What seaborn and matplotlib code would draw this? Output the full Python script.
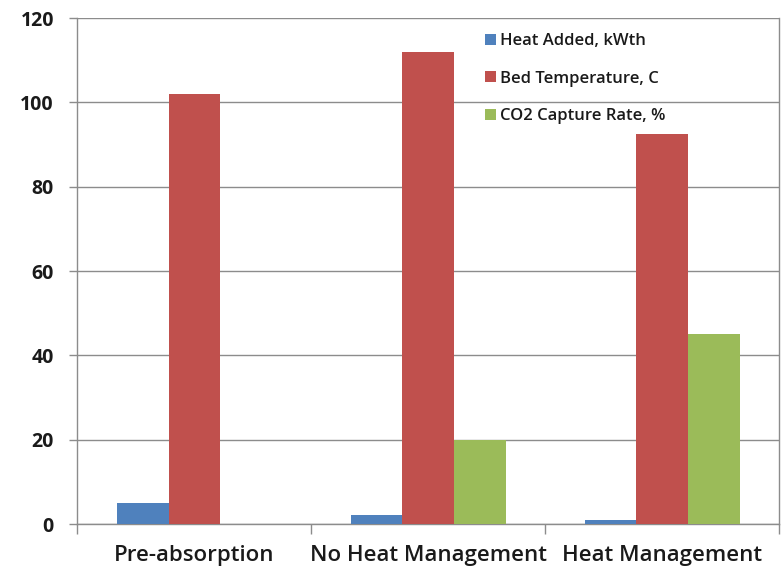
import pandas as pd
import numpy as np
import matplotlib.pyplot as plt
import seaborn as sns

# 数据
categories = ['Pre-absorption', 'No Heat Management', 'Heat Management']
series = ['Heat Added, kWth', 'Bed Temperature, C', 'CO2 Capture Rate, %']
heat_added = [5, 2.2, 1]
bed_temp = [102, 112, 92.5]
co2_rate = [0, 20, 45]
colors = ['#4F81BD', '#C0504D', '#9BBB59']

df = pd.DataFrame({
    'cat': categories * 3,
    'series': np.repeat(series, 3),
    'value': heat_added + bed_temp + co2_rate,
})

sns.set_style('white')
plt.rcParams['font.family'] = ['Open Sans', 'DejaVu Sans']
plt.rcParams['text.color'] = '#1a1a1a'
plt.rcParams['xtick.labelcolor'] = '#1a1a1a'
plt.rcParams['ytick.labelcolor'] = '#1a1a1a'

fig = plt.figure(figsize=(7.82, 5.72), dpi=100)
ax = fig.add_axes([0.0991, 0.0839, 0.897, 0.8846])

sns.barplot(data=df, x='cat', y='value', hue='series', order=categories,
            hue_order=series, palette=colors, width=0.663, saturation=1,
            linewidth=0, errorbar=None, ax=ax, zorder=3)

ax.set_ylim(0, 120)
ax.set_xlim(-0.5, 2.5)
ax.set_yticks(range(0, 121, 20))
ax.yaxis.grid(True, color='#8c8c8c', linewidth=1)
ax.set_axisbelow(True)
ax.set_xlabel('')
ax.set_ylabel('')

for s in ['left', 'bottom', 'right']:
    ax.spines[s].set_color('#8c8c8c')
    ax.spines[s].set_linewidth(1)
ax.spines['top'].set_visible(False)

# 类别分隔刻度
ax.set_xticks([-0.5, 0.5, 1.5, 2.5], minor=True)
ax.tick_params(axis='x', which='major', length=0, pad=15, labelsize=16)
ax.tick_params(axis='x', which='minor', length=7, color='#8c8c8c', width=1, direction='out', bottom=True)
ax.tick_params(axis='y', length=6, color='#8c8c8c', width=1, direction='out', left=True, labelsize=14, pad=11)
for t in ax.get_yticklabels():
    t.set_fontweight('bold')
for t in ax.get_xticklabels():
    t.set_fontweight('semibold')

h, l = ax.get_legend_handles_labels()
ax.legend(h, l, loc='upper left', bbox_to_anchor=(0.56, 1.0), frameon=False,
          handlelength=0.66, handleheight=0.66, handletextpad=0.25,
          labelspacing=1.3, prop={'size': 12, 'weight': 'semibold'})

plt.savefig('out.png', dpi=100)
